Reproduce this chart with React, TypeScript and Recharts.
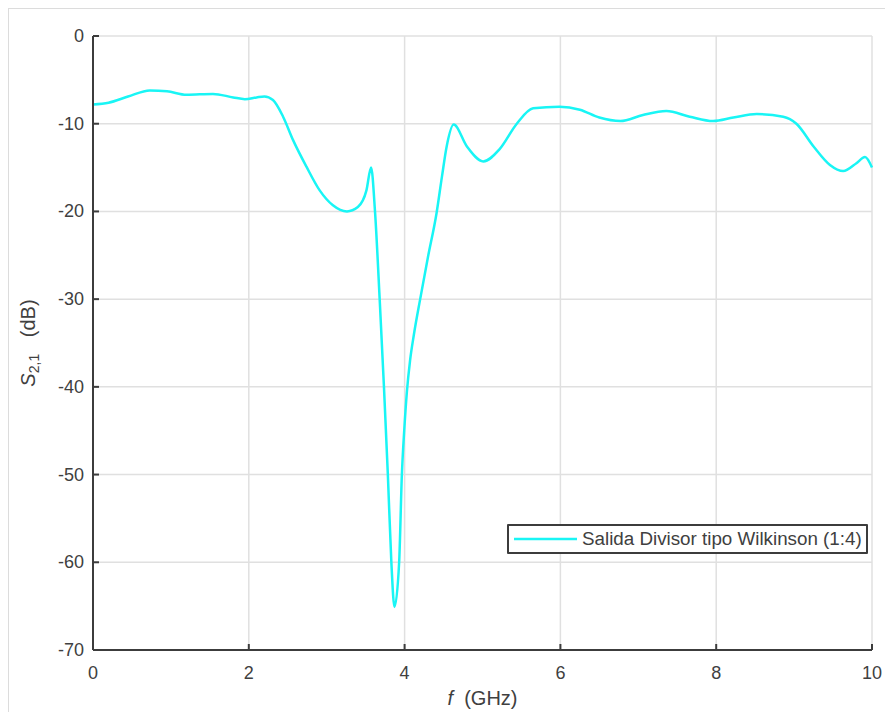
import React from "react";
import { LineChart, Line, XAxis, YAxis, CartesianGrid } from "recharts";

// Frequency sweep (GHz) and measured transmission S21 (dB)
const freqGHz = [
  0, 0.2, 0.45, 0.73, 0.95, 1.2, 1.54, 1.8, 1.95, 2.1, 2.2, 2.31, 2.44, 2.57, 2.74, 2.91,
  3.08, 3.26, 3.4, 3.51, 3.57, 3.62, 3.68, 3.735, 3.785, 3.83, 3.87, 3.93, 3.965, 3.995, 4.03, 4.07, 4.12, 4.2,
  4.3, 4.41, 4.48, 4.54, 4.63, 4.8, 5.01, 5.22, 5.44, 5.65, 5.99, 6.25, 6.5, 6.77, 7.06, 7.36, 7.66,
  7.96, 8.22, 8.52, 8.86, 9.03, 9.25, 9.46, 9.63, 9.8, 9.91, 10.0,
];
const s21dB = [
  -7.8, -7.6, -6.9, -6.2, -6.3, -6.7, -6.6, -7.0, -7.2, -7.0, -6.9, -7.3, -9.2, -11.9, -14.9, -17.6,
  -19.3, -20.0, -19.5, -17.6, -15.0, -20.0, -30.0, -40.0, -50.0, -60.0, -65.1, -60.0, -50.0, -45.0, -40.5, -37.0, -34.0, -30.0,
  -25.2, -20.2, -16.0, -12.6, -10.1, -12.6, -14.3, -12.9, -10.0, -8.25, -8.06, -8.4, -9.3, -9.7, -9.0, -8.55, -9.2,
  -9.7, -9.3, -8.9, -9.2, -10.0, -12.6, -14.7, -15.4, -14.5, -13.8, -15.0,
];
const xTicks = [0, 2, 4, 6, 8, 10];
const yTicks = [0, -10, -20, -30, -40, -50, -60, -70];
const seriesName = "Salida Divisor tipo Wilkinson (1:4)";

const data = freqGHz.map((f, i) => ({ f, s21: s21dB[i] }));

const FONT = "'Liberation Sans', Arial, Helvetica, sans-serif";
const TEXT = "#404040";
const AXIS = "#3c3c3c";
const CYAN = "#19f5f5";

const W = 884;
const H = 703;
const M = { top: 27, right: 21, left: 0, bottom: 0 };
const Y_W = 84;
const X_H = 62;
const PLOT_L = M.left + Y_W;
const PLOT_B = H - M.bottom - X_H;

const YTick = (props: any) => {
  const { y, payload } = props;
  return (
    <g>
      <line x1={PLOT_L} x2={PLOT_L + 6} y1={y} y2={y} stroke={AXIS} strokeWidth={2} />
      <text x={PLOT_L - 9} y={y} dy={6} textAnchor="end" fontFamily={FONT} fontSize={18} fill={TEXT}>
        {payload.value}
      </text>
    </g>
  );
};

const XTick = (props: any) => {
  const { x, payload } = props;
  return (
    <g>
      <line x1={x} x2={x} y1={PLOT_B} y2={PLOT_B - 6} stroke={AXIS} strokeWidth={2} />
      <text x={x} y={PLOT_B + 29} textAnchor="middle" fontFamily={FONT} fontSize={18} fill={TEXT}>
        {payload.value}
      </text>
    </g>
  );
};

const YLabel = (props: any) => {
  const vb = props.viewBox || {};
  const cx = 21;
  const cy = (vb.y ?? 27) + (vb.height ?? 614) / 2;
  return (
    <text
      x={cx}
      y={cy}
      transform={`rotate(-90, ${cx}, ${cy})`}
      textAnchor="middle"
      dominantBaseline="middle"
      fontFamily={FONT}
      fontSize={20}
      fill={TEXT}
    >
      <tspan fontStyle="italic">S</tspan>
      <tspan fontSize={14} dy={5}>2,1</tspan>
      <tspan dy={-5}>{"\u00a0\u00a0\u00a0(dB)"}</tspan>
    </text>
  );
};

const XLabel = (props: any) => {
  const vb = props.viewBox || {};
  const cx = (vb.x ?? 84) + (vb.width ?? 779) / 2;
  return (
    <text x={cx} y={PLOT_B + 55} textAnchor="middle" fontFamily={FONT} fontSize={20} fill={TEXT}>
      <tspan fontStyle="italic">f</tspan>
      <tspan>{"\u00a0\u00a0(GHz)"}</tspan>
    </text>
  );
};

const LegendBox = () => (
  <div
    style={{
      position: "absolute",
      left: 498,
      top: 515,
      width: 357,
      height: 26,
      border: `2px solid ${AXIS}`,
      borderRadius: 1,
      background: "#fff",
      display: "flex",
      alignItems: "center",
      fontFamily: FONT,
      fontSize: 18.8,
      color: TEXT,
      whiteSpace: "nowrap",
      overflow: "hidden",
    }}
  >
    <svg width={73} height={26} style={{ flex: "none" }}>
      <line x1={5} x2={68} y1={13} y2={13} stroke={CYAN} strokeWidth={2.5} />
    </svg>
    <span>{seriesName}</span>
  </div>
);

export default function App() {
  return (
    <div
      style={{
        position: "relative",
        width: W,
        height: H,
        borderTop: "1px solid #dcdcdc",
        borderLeft: "1px solid #dcdcdc",
        background: "#fff",
      }}
    >
      <LineChart width={W} height={H} data={data} margin={M}>
        <CartesianGrid stroke="#e0e0e0" strokeWidth={1.5} horizontalValues={yTicks} verticalValues={xTicks} />
        <XAxis
          dataKey="f"
          type="number"
          domain={[0, 10]}
          ticks={xTicks}
          height={X_H}
          axisLine={{ stroke: AXIS, strokeWidth: 2 }}
          tickLine={false}
          tick={<XTick />}
          interval={0}
          label={<XLabel />}
        />
        <YAxis
          type="number"
          domain={[-70, 0]}
          ticks={yTicks}
          width={Y_W}
          axisLine={{ stroke: AXIS, strokeWidth: 2 }}
          tickLine={false}
          tick={<YTick />}
          interval={0}
          label={<YLabel />}
        />
        <Line
          type="monotone"
          dataKey="s21"
          name={seriesName}
          stroke={CYAN}
          strokeWidth={2.5}
          dot={false}
          isAnimationActive={false}
        />
      </LineChart>
      <LegendBox />
    </div>
  );
}
